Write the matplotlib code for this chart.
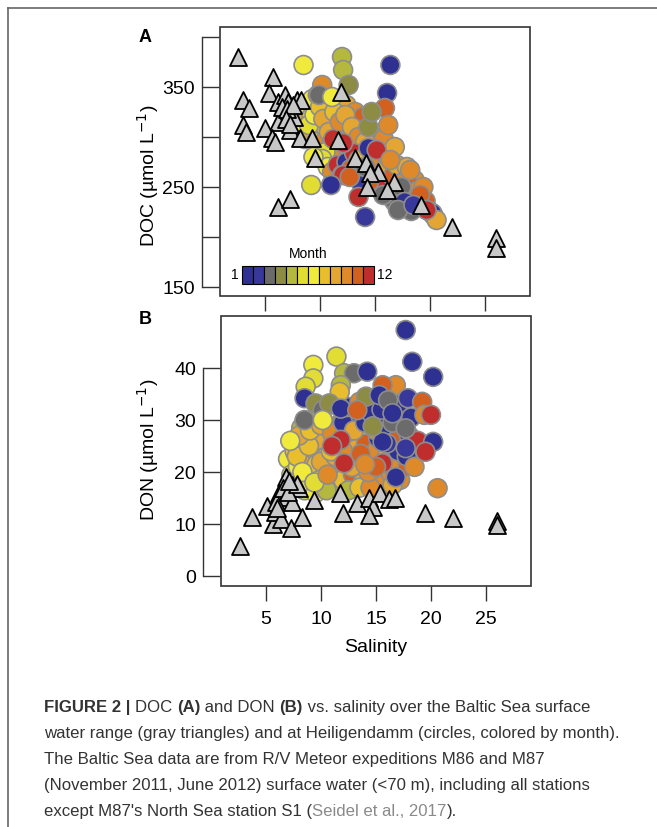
import matplotlib
matplotlib.use('Agg')
import matplotlib.pyplot as plt
from matplotlib.patches import Rectangle
from matplotlib.lines import Line2D

plt.rcParams['font.family'] = ['Liberation Sans', 'DejaVu Sans']

# month colours, 1..12
month_colors = ['#2e3192', '#37389a', '#6b6b6b', '#8c8c45', '#b5b83e', '#e2dd32',
                '#f0ea3c', '#e9be2e', '#e3a633', '#de8a2b', '#d2601f', '#c02d2d']

# ---- Baltic Sea cruise stations (gray triangles)
tri_a_sal = [2.55, 5.7, 3.0, 3.55, 3.0, 3.3, 5.4, 6.2, 6.8, 7.1, 7.9, 8.3, 6.7, 7.6,
             6.2, 5.0, 5.6, 5.9, 7.3, 8.2, 9.3, 11.6, 11.9, 9.5, 13.2, 14.2, 15.3,
             14.5, 16.7, 16.1, 14.3, 6.2, 7.3, 19.2, 22.0, 26.05, 26.0, 6.5, 7.0,
             7.5, 6.9, 7.3]
tri_a_doc = [380, 360, 337, 329, 312, 305, 344, 335, 342, 335, 337, 337, 324, 320,
             315, 309, 299, 295, 307, 299, 299, 297, 345, 279, 279, 274, 265,
             264, 255, 247, 250, 230, 238, 232, 210, 199, 189, 330, 328,
             332, 318, 313]

tri_b_sal = [2.6, 3.7, 5.06, 5.6, 5.8, 6.4, 7.3, 8.3, 6.8, 7.4, 8.0, 6.2, 6.75, 5.9,
             7.4, 9.4, 11.7, 12.0, 13.3, 14.4, 14.7, 14.4, 15.4, 16.2, 16.7, 19.5,
             22.0, 26.05, 26.05, 6.5, 7.0, 7.8, 6.0, 7.1]
tri_b_don = [5.8, 11.3, 13.5, 10.0, 12.4, 10.9, 9.2, 11.3, 19.1, 17.5, 16.9, 15.9, 15.25, 14.3,
             14.3, 14.6, 15.9, 12.2, 14.1, 15.1, 13.3, 11.7, 15.9, 14.8, 15.1, 12.2,
             11.1, 10.6, 9.8, 17.0, 16.2, 17.8, 13.0, 18.2]

# ---- Heiligendamm (circles, by month)
circ_a_sal = [8.4, 8.7, 8.9, 9.2, 9.4, 9.7, 9.9, 10.2, 10.4, 10.6, 10.9, 11.1, 11.4, 11.7,
              11.9, 12.2, 12.5, 12.8, 13.1, 13.4, 13.7, 14.0, 14.3, 14.7, 15.0, 8.2, 8.6,
              9.0, 9.6, 10.0, 10.5, 11.0, 11.5, 12.0, 12.6, 13.2, 9.3, 9.8, 10.8, 11.6,
              12.4, 13.2, 13.9,
              9.0, 9.5, 10.0, 10.3, 10.8, 11.3, 11.8, 12.3, 12.9, 13.5, 14.1, 14.6, 15.2,
              15.7, 16.5, 17.2, 17.8, 18.6, 16.8, 17.3, 18.0, 13.0, 14.0, 10.5,
              10.2, 10.7, 11.1, 11.6, 12.0, 12.4, 12.8, 13.1, 13.5, 13.9, 14.2, 14.6, 14.9,
              15.3, 15.6, 16.0, 16.3, 16.7, 17.0, 17.4, 17.8, 18.1, 18.5, 18.8, 19.2, 19.6,
              19.9, 20.3, 18.3, 17.6, 16.6, 15.2, 14.5, 13.8, 16.2, 17.0, 15.8, 14.4,
              8.5, 12.0, 12.1, 12.6, 16.4, 16.1, 15.9, 14.7, 10.2, 9.9, 11.1, 16.2, 16.8,
              17.9, 18.2, 19.4, 19.1, 20.2, 20.6, 19.7, 17.4, 17.7, 17.1, 15.75, 13.5, 14.1,
              12.1, 11.0, 9.2, 9.4, 11.2, 12.1, 12.7, 13.5, 14.4, 15.15, 14.1, 16.4, 18.5]
circ_a_doc = [325, 315, 330, 320, 310, 327, 317, 308, 334, 322, 312, 330, 318, 306,
              325, 312, 300, 318, 305, 295, 310, 300, 290, 302, 292, 305, 298,
              300, 295, 288, 297, 292, 285, 295, 287, 280, 338, 342, 340, 338,
              332, 325, 320,
              312, 322, 330, 318, 305, 325, 315, 322, 310, 300, 295, 285, 280,
              285, 268, 262, 255, 257, 235, 229, 230, 270, 260, 285,
              278, 270, 265, 272, 262, 275, 268, 284, 262, 278, 268, 283, 262,
              276, 258, 270, 252, 262, 246, 258, 244, 252, 238, 246, 232, 236,
              226, 222, 226, 234, 238, 250, 256, 252, 280, 272, 298, 310,
              372, 380, 367, 352, 372, 344, 329, 325, 352, 342, 340, 312, 290,
              270, 267, 250, 242, 224, 217, 227, 250, 235, 227, 242, 240, 220,
              262, 252, 252, 280, 298, 294, 260, 277, 289, 287, 270, 277, 232]
circ_a_month = [8, 9, 7, 8, 6, 9, 7, 8, 10, 9, 8, 9, 10, 9,
                8, 10, 9, 9, 10, 8, 10, 9, 10, 9, 10, 7, 6,
                9, 8, 7, 10, 9, 10, 11, 9, 10, 7, 6, 8, 10,
                9, 10, 11,
                6, 7, 8, 9, 9, 8, 10, 9, 9, 10, 9, 10, 9,
                10, 10, 11, 9, 10, 3, 3, 3, 1, 12, 6,
                6, 7, 10, 12, 11, 1, 11, 12, 3, 10, 12, 9, 1,
                10, 3, 9, 1, 11, 2, 10, 3, 11, 12, 10, 1, 11,
                10, 9, 3, 1, 3, 12, 11, 2, 8, 9, 10, 4,
                7, 5, 5, 4, 1, 1, 11, 4, 10, 3, 7, 10, 9,
                9, 10, 10, 11, 1, 9, 12, 3, 1, 3, 3, 12, 2,
                12, 1, 6, 7, 12, 12, 11, 8, 1, 12, 3, 10, 2]

circ_b_sal = [7.0, 7.3, 7.6, 7.9, 8.2, 8.4, 8.7, 9.0, 9.3, 9.6, 9.9, 10.2, 10.5, 10.8,
              11.1, 11.4, 11.7, 12.0, 12.3, 12.6, 12.9, 13.2, 13.5, 13.8, 14.1, 14.4,
              14.7, 15.0, 15.3, 15.6, 16.0, 16.4, 16.8, 17.2, 17.6, 7.5, 8.5, 9.5, 10.5,
              12.5, 13.5, 14.5, 16.5,
              7.8, 8.3, 8.9, 9.4, 10.0, 10.6, 11.3, 12.0, 12.8, 13.6, 14.3, 15.2, 16.2,
              17.0, 15.8, 13.0, 11.5, 9.5, 8.2, 16.8,
              8.0, 9.0, 10.0, 11.0, 12.0, 13.0, 14.0, 15.0, 16.0, 17.0, 18.0, 12.5, 13.5,
              14.5, 15.5, 16.5, 17.0, 18.2, 18.8, 17.8, 18.5, 16.0, 10.9, 7.2,
              17.7, 18.3, 20.2, 11.4, 9.3, 9.3, 8.6, 8.5, 12.1, 13.0, 14.2, 11.8, 11.7,
              9.5, 8.5, 10.15, 10.75, 10.15, 14.1, 11.8, 13.3, 16.8, 15.6, 15.3, 16.1,
              16.5, 17.9, 19.2, 19.4, 20.0, 17.7, 20.2, 19.5, 20.6, 17.7, 15.6, 14.7,
              11.8, 15.6, 12.1, 11.0, 15.0, 14.0]
circ_b_don = [22.5, 19.5, 24.0, 21.0, 18.0, 25.5, 22.0, 19.0, 24.5, 21.5, 18.5, 26.0, 23.0, 20.0,
              17.5, 24.5, 21.5, 18.5, 26.0, 22.5, 19.5, 24.5, 21.0, 18.0, 25.5, 22.0,
              19.0, 24.0, 20.5, 17.5, 23.0, 19.5, 22.0, 18.5, 21.0, 17.0, 16.5, 16.0, 16.5,
              16.5, 17.0, 17.0, 17.5,
              23.0, 20.0, 25.0, 18.0, 22.0, 19.5, 23.0, 24.0, 21.0, 23.5, 20.0, 26.5, 21.5,
              24.0, 30.5, 31.0, 29.0, 30.5, 28.5, 19.0,
              27.0, 28.0, 29.0, 27.5, 29.5, 28.0, 29.5, 28.0, 27.5, 26.5, 27.0, 32.5, 33.5,
              31.5, 32.0, 29.5, 33.0, 30.5, 26.0, 23.0, 21.0, 25.5, 24.0, 26.0,
              47.3, 41.2, 38.3, 42.2, 40.6, 38.0, 36.4, 34.2, 39.0, 39.0, 39.3, 36.7, 35.4,
              33.2, 30.0, 31.9, 33.2, 30.0, 34.5, 32.2, 31.9, 36.7, 36.7, 34.8, 33.8,
              31.3, 34.2, 33.5, 31.0, 31.0, 28.4, 25.8, 23.9, 16.9, 24.6, 25.8, 28.8,
              26.2, 21.7, 21.7, 25.0, 21.0, 21.5]
circ_b_month = [7, 6, 8, 7, 6, 8, 9, 7, 9, 8, 6, 9, 8, 9,
                5, 10, 9, 8, 9, 10, 11, 9, 10, 9, 11, 10,
                9, 10, 11, 10, 9, 10, 11, 10, 11, 7, 6, 7, 5,
                5, 8, 10, 9,
                8, 7, 8, 6, 9, 10, 9, 10, 9, 11, 10, 1, 10,
                1, 1, 1, 4, 5, 5, 1,
                9, 8, 9, 10, 1, 9, 1, 10, 1, 11, 1, 1, 10,
                1, 1, 3, 1, 1, 12, 1, 10, 2, 8, 7,
                1, 1, 1, 6, 7, 6, 6, 1, 5, 3, 1, 5, 8,
                4, 3, 3, 4, 7, 4, 1, 11, 10, 11, 1, 3,
                1, 2, 11, 10, 12, 3, 1, 12, 10, 2, 1, 4,
                12, 12, 12, 12, 11, 10]

W, H = 657, 827
fig = plt.figure(figsize=(W / 100, H / 100), dpi=100)


def px_box(left, top, right, bottom):
    return [left / W, 1 - bottom / H, (right - left) / W, (bottom - top) / H]


ax_a = fig.add_axes(px_box(220, 27, 530, 296))
ax_b = fig.add_axes(px_box(221, 316, 531, 586))

panels = [
    (ax_a, circ_a_sal, circ_a_doc, circ_a_month, tri_a_sal, tri_a_doc),
    (ax_b, circ_b_sal, circ_b_don, circ_b_month, tri_b_sal, tri_b_don),
]
for ax, cs, cv, cm, ts, tv in panels:
    ax.scatter(cs, cv, s=185, c=[month_colors[m - 1] for m in cm],
               edgecolors='#8d8d8d', linewidths=1.2, zorder=2)
    ax.scatter(ts, tv, s=150, marker='^', c='#c8c8c8',
               edgecolors='black', linewidths=1.3, zorder=3)
    for s in ['top', 'right', 'bottom']:
        ax.spines[s].set_visible(False)
    ax.spines['left'].set_position(('outward', 13))
    ax.spines['left'].set_linewidth(1.0)
    ax.spines['left'].set_color('#333333')
    ax.add_patch(Rectangle((0, 0), 1, 1, transform=ax.transAxes, fill=False,
                           lw=1.2, edgecolor='#333333', clip_on=False, zorder=6))
    ax.set_xlim(0.9, 29.1)
    ax.set_xticks([5, 10, 15, 20, 25])
    ax.tick_params(axis='x', direction='out', length=11, width=1, color='#333333',
                   labelsize=14, pad=7)
    ax.tick_params(axis='y', direction='in', length=12, width=1, color='#333333',
                   labelsize=14, pad=5)

# panel A
ax_a.set_ylim(141, 410)
ax_a.set_yticks([150, 200, 250, 300, 350, 400])
ax_a.set_yticklabels(['150', '', '250', '', '350', ''])
ax_a.spines['left'].set_bounds(150, 400)
ax_a.set_xticklabels([])

# month colour key
for i, col in enumerate(month_colors):
    ax_a.add_patch(Rectangle((2.9 + i, 153), 1, 18, facecolor=col,
                             edgecolor='black', lw=0.8, zorder=7))
ax_a.text(8.9, 176, 'Month', ha='center', va='bottom', fontsize=10, zorder=7)
ax_a.text(2.6, 162, '1', ha='right', va='center', fontsize=10, zorder=7)
ax_a.text(15.2, 162, '12', ha='left', va='center', fontsize=10, zorder=7)

# panel B
ax_b.set_ylim(-1.9, 50)
ax_b.set_yticks([0, 10, 20, 30, 40])
ax_b.spines['left'].set_bounds(0, 40)
ax_b.set_xlabel('Salinity', fontsize=14, labelpad=8)

fig.text(145 / W, 1 - 38 / H, 'A', fontsize=13, fontweight='bold', ha='center', va='center')
fig.text(145 / W, 1 - 320 / H, 'B', fontsize=13, fontweight='bold', ha='center', va='center')
fig.text(148 / W, 1 - 176 / H, 'DOC (µmol L$^{-1}$)', rotation=90, fontsize=14,
         ha='center', va='center')
fig.text(148 / W, 1 - 450 / H, 'DON (µmol L$^{-1}$)', rotation=90, fontsize=14,
         ha='center', va='center')

# figure frame (left and top edges)
fig.add_artist(Line2D([8 / W, 8 / W], [0, 1 - 8 / H], transform=fig.transFigure,
                      color='#666666', lw=1.2))
fig.add_artist(Line2D([8 / W, 1], [1 - 8 / H, 1 - 8 / H], transform=fig.transFigure,
                      color='#666666', lw=1.2))

# caption
cap_size = 12.1
dark = '#333333'
caption = [
    [('FIGURE 2 | ', 'bold', dark), ('DOC ', 'normal', dark), ('(A)', 'bold', dark),
     (' and DON ', 'normal', dark), ('(B)', 'bold', dark),
     (' vs. salinity over the Baltic Sea surface', 'normal', dark)],
    [('water range (gray triangles) and at Heiligendamm (circles, colored by month).', 'normal', dark)],
    [('The Baltic Sea data are from R/V Meteor expeditions M86 and M87', 'normal', dark)],
    [('(November 2011, June 2012) surface water (<70 m), including all stations', 'normal', dark)],
    [("except M87's North Sea station S1 (", 'normal', dark),
     ('Seidel et al., 2017', 'normal', '#8a8a8a'), (').', 'normal', dark)],
]
renderer = fig.canvas.get_renderer()
for i, line in enumerate(caption):
    x = 44 / W
    y = 1 - (712 + 26 * i) / H
    for txt, weight, col in line:
        t = fig.text(x, y, txt, fontsize=cap_size, fontweight=weight, color=col,
                     ha='left', va='baseline')
        x += t.get_window_extent(renderer).width / fig.bbox.width

fig.savefig('out.png', dpi=100)
